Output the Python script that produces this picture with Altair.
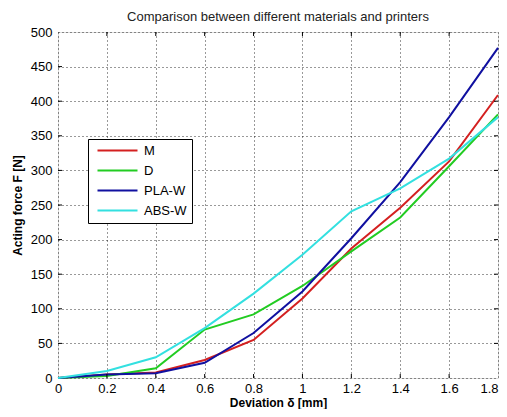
import altair as alt
import pandas as pd

deviation = [0, 0.2, 0.4, 0.6, 0.8, 1.0, 1.2, 1.4, 1.6, 1.8]
force_M = [0, 5, 8, 26, 55, 115, 187, 246, 313, 409]
force_D = [0, 3, 14, 70, 92, 133, 183, 232, 306, 381]
force_PLA = [0, 5, 7, 22, 65, 125, 202, 283, 377, 477]
force_ABS = [0, 10, 30, 72, 122, 178, 241, 274, 317, 377]
series = ["M", "D", "PLA-W", "ABS-W"]
colors = ["#d42020", "#22cc22", "#1010a0", "#33e0e0"]
x_ticks = [0, 0.2, 0.4, 0.6, 0.8, 1.0, 1.2, 1.4, 1.6, 1.8]
y_ticks = [0, 50, 100, 150, 200, 250, 300, 350, 400, 450, 500]

rows = []
for name, vals in zip(series, [force_M, force_D, force_PLA, force_ABS]):
    for x, y in zip(deviation, vals):
        rows.append({"x": x, "y": y, "series": name})
df = pd.DataFrame(rows)

FONT = "Liberation Sans"
W, H = 440, 346

xscale = alt.Scale(domain=[0, 1.8], nice=False)
yscale = alt.Scale(domain=[0, 500], nice=False)

x_axis = alt.Axis(values=x_ticks, format="~g", title="Deviation δ [mm]",
                  grid=True, gridColor="black", gridDash=[1, 3], gridOpacity=0.8,
                  tickSize=0, domain=False, labelFontSize=13, labelFont=FONT,
                  labelColor="black", labelPadding=4, titleFont=FONT,
                  titleFontSize=12, titleFontWeight="bold", titleColor="black",
                  titlePadding=2, labelFlush=False,
                  labelAlign={"condition": {"test": "datum.value >= 1.79", "value": "right"},
                              "value": "center"})
y_axis = alt.Axis(values=y_ticks, title="Acting force F [N]",
                  grid=True, gridColor="black", gridDash=[1, 3], gridOpacity=0.8,
                  tickSize=0, domain=False, labelFontSize=13, labelFont=FONT,
                  labelColor="black", labelPadding=6, titleFont=FONT,
                  titleFontSize=12, titleFontWeight="bold", titleColor="black",
                  titlePadding=6, labelFlush=False)

lines = alt.Chart(df).mark_line(strokeWidth=2).encode(
    x=alt.X("x:Q", scale=xscale, axis=x_axis),
    y=alt.Y("y:Q", scale=yscale, axis=y_axis),
    color=alt.Color("series:N", sort=series,
                    scale=alt.Scale(domain=series, range=colors),
                    legend=alt.Legend(title=None, orient="none", legendX=30, legendY=107,
                                      strokeColor="black", fillColor="white", padding=5,
                                      symbolType="M-4,0H4", symbolSize=100,
                                      symbolStrokeWidth=2, symbolOffset=18,
                                      labelOffset=20, labelFontSize=13, labelFont=FONT,
                                      labelColor="black", rowPadding=6)),
    order=alt.Order("x:Q"),
)

xt = pd.DataFrame({"v": x_ticks[1:-1]})
yt = pd.DataFrame({"v": y_ticks[1:-1]})
tick_bottom = alt.Chart(xt).mark_rule(color="black").encode(
    x=alt.X("v:Q", scale=xscale, axis=x_axis), y=alt.value(H), y2=alt.value(H - 4))
tick_top = alt.Chart(xt).mark_rule(color="black").encode(
    x=alt.X("v:Q", scale=xscale, axis=x_axis), y=alt.value(0), y2=alt.value(4))
tick_left = alt.Chart(yt).mark_rule(color="black").encode(
    y=alt.Y("v:Q", scale=yscale, axis=y_axis), x=alt.value(0), x2=alt.value(4))
tick_right = alt.Chart(yt).mark_rule(color="black").encode(
    y=alt.Y("v:Q", scale=yscale, axis=y_axis), x=alt.value(W), x2=alt.value(W - 4))

chart = alt.layer(lines, tick_bottom, tick_top, tick_left, tick_right).properties(
    width=W, height=H,
    title=alt.Title("Comparison between different materials and printers",
                    font=FONT, fontSize=13, fontWeight="normal", color="#222222",
                    anchor="middle", offset=2),
    autosize=alt.AutoSizeParams(type="none"),
    padding={"left": 50, "top": 24, "right": 1, "bottom": 31},
).configure_view(stroke="black", strokeWidth=1).configure(background="white")

chart.save("out.html", embed_options={"renderer": "svg", "actions": False})
